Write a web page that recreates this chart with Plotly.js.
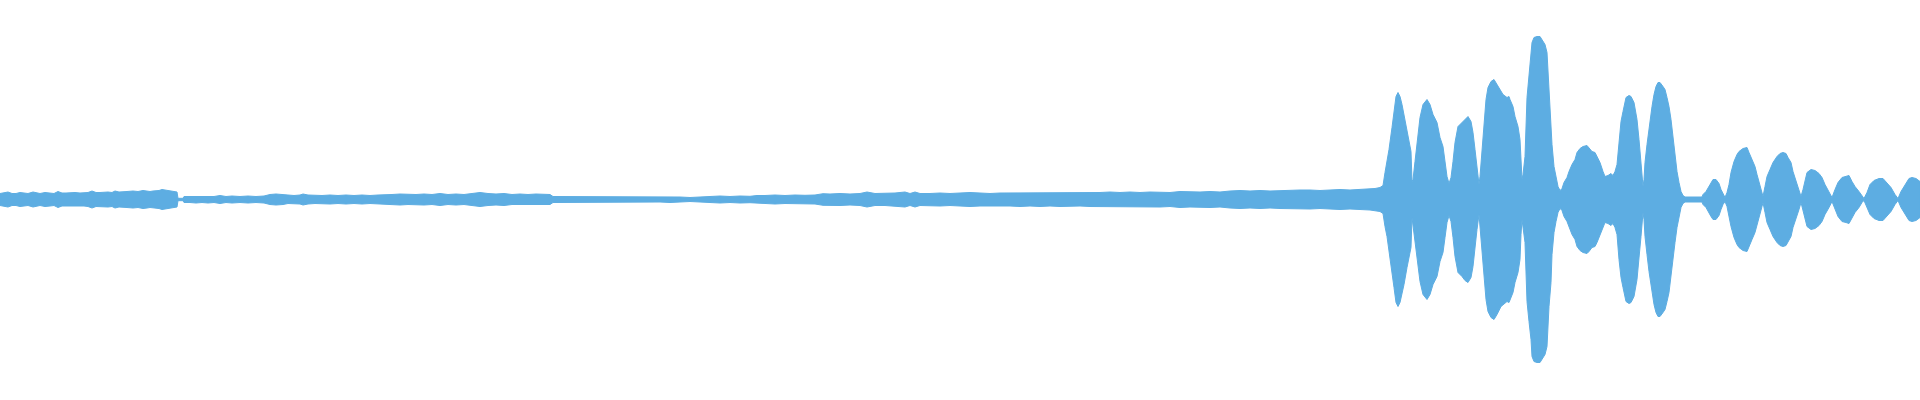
<!DOCTYPE html>
<html>
<head>
<meta charset="utf-8">
<script src="https://cdn.plot.ly/plotly-3.0.1.min.js"></script>
<style>
  html, body { margin: 0; padding: 0; background: #ffffff; }
  #chart { width: 1920px; height: 400px; }
</style>
</head>
<body>
<div id="chart"></div>
<script>
// Sample position (column) and peak amplitude of the waveform envelope.
const quietPos = [0,4,8,12,16,20,24,28,33,37,40,45,50,54,58,62,66,70,75,80,84,88,92,96,100,104,108,112,115,119,122,127,133,138,143,147,150,153,156,159,162,165,168,171,174,177,
  178,183,184,190,196,202,208,214,220,226,232,240,248,256,264,270,276,283,288,294,300,303,308,315,322,330,338,346,354,362,370,378,384,392,400,408,416,424,432,440,448,456,464,472,480,488,496,504,512,520,528,536,544,550,
  553,560,570,580,590,600,610,620,630,640,650,660,670,680,690,697,700,710,720,730,740,750,757,765,775,785,795,805,815,823,830,840,850,860,867,875,885,895,905,910,915,
  920,930,940,950,960,970,980,990,1000,1010,1020,1030,1040,1050,1060,1070,1080,1090,1100,1110,1120,1130,1140,1150,1160,1170,1180,1190,1200,1210,1220,1230,1240,1250,1260,1270,1280,1290,1300,1310,1320,1330,1340,1350,1360,1370,1375,1380,1383];
const quietAmp = [6,6.5,7.5,6,6,7,6.5,6,7.5,6.5,6,7,6.5,6,8,6.5,6.5,7,7,6.5,6.5,7,8.5,7,7,7.5,7.5,7,8.5,7.5,7.5,8,8.5,8,9,8.5,8,8.5,8.5,9,10,9.5,9,8.5,8,7.5,
  1.2,1.2,3,3,3.5,3,3.5,3,4,3,3.5,3,3.5,3,3.5,5,5.5,5,4,4,4.5,5.5,4.5,4,4,4.5,4,4.5,4,4.5,4,4.5,5,5,5.5,5,5,5.5,5,6,5,5.5,5,6,7,6,5.5,6,5,5.5,5,5.5,5,5,
  3,3,2.5,3,2.5,2.5,3,2.5,2.5,3,2.5,2.5,3,2.5,2,2.3,3,3.2,3.5,3,3.5,3.2,4,4,4.5,4,4.5,4.2,4.5,5.8,5.5,6,5.5,6,7.5,6,6,6.5,7.5,6,7.5,
  6,6,6.5,6,6.5,7,6.5,6,6.5,6.5,7,6.5,7,6.5,7,7,6.5,7,7,7.5,7,7.5,7,7.5,7.5,7,8,7.5,7.5,8,7.5,8.5,9,8.5,9,8.5,9,9,9.5,9.5,9,9.5,10,9.5,10,10.5,11,12,14];

const loudPos = [1385,1387,1389,1392,1394,1396,1398,1400,1402,1404,1407,1409,1411,1412,1413,1415,1417,1420,1423,1425,1427,1430,1433,1437,1440,1443,1445,1447,1449,1451,1453,1455,1458,1462,1465,1468,1471,1473,1475,1477,1479,1480,1482,1484,1486,1488,1491,1494,1497,1501,1503,1507,1509,
  1510,1513,1515,1518,1520,1521,1522,1523,1525,1527,1529,1531,1532,1534,1537,1540,1543,1545,1547,1548,1549,1551,1552,1554,1556,1558,1560,1562,1564,1567,1569,1572,1575,1577,1580,1583,1587,1589,1592,1595,1597,1600,1603,1605,1608,1611,1613,1615,1617,1619,1621,1623,1626,1629,1631,1634,1637,1639,1641,1643,1644,1645,1647,1649,
  1650,1652,1654,1656,1658,1660,1663,1665,1667,1669,1671,1673,1675,1677,1679,1681,1683,1685,1702,1703,1706,1709,1711,1713,1716,1719,1721,1723,1725,1727,1729,1731,1734,1737,1739,1743,1747,1749,1752,1755,1757,1760,1762,1763,1765,1767,1770,1773,1777,1780,1783,1786,1788,1791,1793,1796,1799,1801,1803,1805,1807,1811,1815,1819,1822,1825,1829,1832,1835,1838,1842,1846,1849,1852,1855,1859,1862,1864,1867,1870,1874,1879,1883,1887,1891,1895,1898,1901,1905,1909,1912,1916,1920];
const loudAmp = [27,37,50,72,88,103,107,103,95,85,68,60,48,18,20,38,58,82,95,98,100,95,85,77,62,53,38,23,16,22,38,57,73,77,81,83,78,67,50,30,15,23,47,77,100,112,118,120,115,107,105,102,103,
  100,93,83,73,60,35,20,25,43,102,122,140,157,162,163,163,158,155,147,128,107,83,55,33,22,13,9,11,17,22,28,35,40,47,51,53,54,52,48,47,43,37,28,23,24,26,24,28,35,60,78,88,102,104,103,97,80,60,37,13,20,37,55,72,
  80,93,105,113,117,117,113,110,102,93,80,62,43,28,17,8,4,2.5,2.5,5,8,13,17,20,20,16,10,5,2,7,15,27,38,45,48,51,52,47,40,33,25,15,7,3,13,23,30,37,43,46,47,46,42,37,28,18,10,3,10,18,27,30,29,26,22,15,8,2,10,17,22,23,24,18,13,8,3,1,7,15,19,21,21,17,12,5,1,8,15,21,22,21,18];

const pos = quietPos.concat(loudPos);
const amp = quietAmp.concat(loudAmp);

const xs = pos.concat(pos.slice().reverse());
const ys = amp.concat(amp.slice().reverse().map(v => -v));

const trace = {
  x: xs,
  y: ys,
  type: 'scatter',
  mode: 'lines',
  fill: 'toself',
  fillcolor: '#5DADE2',
  line: { color: '#5DADE2', width: 1 },
  hoverinfo: 'skip',
  showlegend: false
};

const layout = {
  width: 1920,
  height: 400,
  margin: { l: 0, r: 0, t: 0, b: 0, pad: 0 },
  paper_bgcolor: '#ffffff',
  plot_bgcolor: '#ffffff',
  xaxis: { range: [0, 1920], visible: false, fixedrange: true },
  yaxis: { range: [-200.5, 199.5], visible: false, fixedrange: true },
  showlegend: false
};

Plotly.newPlot('chart', [trace], layout, { displayModeBar: false, staticPlot: true });
</script>
</body>
</html>
